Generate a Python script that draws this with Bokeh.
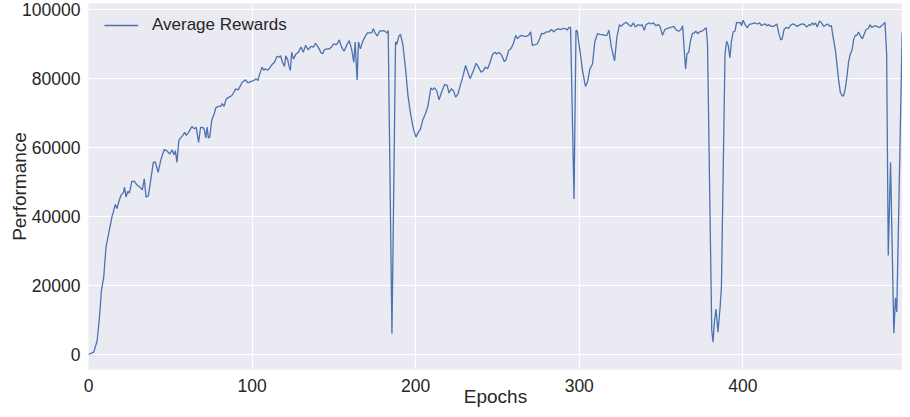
from bokeh.plotting import figure
from bokeh.models import Range1d, FixedTicker, BasicTickFormatter
from bokeh.embed import file_html
from bokeh.resources import INLINE

# Data
epochs = [
    0, 3.2, 5.3, 6.7, 7.9, 9.3, 10.7, 12.3, 14.3, 16.4, 17.4, 18.4, 19.8, 21.4, 22.0, 23.0, 24.0, 25.0,
    26.5, 28.0, 29.4, 31.5, 32.9, 34.1, 35.2, 36.6, 38.0, 39.6, 40.8, 42.6, 44.2, 46.3, 47.7, 49.7,
    51.1, 52.3, 53.1, 54.1, 55.2, 56.3, 57.7, 58.8, 59.8, 61.2, 63.2, 64.8, 65.8, 67.3, 68.5, 69.9,
    70.7, 71.7, 72.5, 73.3, 74.1, 75.4, 76.8, 77.8, 79.4, 80.8, 81.8, 82.8, 84.2, 85.9, 87.5, 88.9,
    89.9, 91.5, 93.0, 94.0, 96.0, 97.4, 99.0, 101.0, 102.4, 103.6, 104.4, 106.1, 107.1, 108.1, 109.7,
    111.1, 112.5, 113.7, 115.2, 116.6, 117.4, 118.6, 119.8, 120.6, 121.8, 122.6, 123.4, 124.2, 125.3,
    126.7, 128.3, 129.9, 131.3, 132.7, 134.3, 135.9, 137.4, 138.8, 140.4, 141.3, 142.2, 143.2,
    144.2, 145.7, 147.3, 148.5, 149.7, 151.3, 152.3, 153.3, 154.7, 156.2, 157.8, 159.4, 160.8, 162.2,
    163.0, 164.2, 165.0, 166.2, 167.5, 168.9, 170.5, 171.9, 173.1, 174.1, 175.2, 176.6, 178.0, 179.6,
    181.2, 182.6, 183.2, 185.5, 187.7, 188.5, 189.7, 190.7, 192.1, 193.7, 195.3, 196.9, 198.6, 200.2,
    201.8, 203.0, 204.2, 205.9, 207.5, 209.3, 210.3, 211.5, 212.9,
    214.3, 215.8, 217.8, 219.2, 220.4, 221.8, 223.2, 224.4, 225.8, 227.3, 228.9, 230.5, 231.9, 233.3,
    234.9, 237.0, 238.4, 240.0, 241.4, 242.6, 244.0, 245.5, 247.1, 248.5, 249.5, 251.1, 252.7, 254.1,
    255.2, 256.8, 258.2, 259.6, 261.2, 262.2, 263.6, 264.8, 266.3, 267.7, 268.9, 270.3, 271.3, 272.9,
    274.3, 275.8, 277.0, 278.4, 279.8, 281.4, 283.0, 284.5,
    285.9, 287.3, 288.7, 290.3, 291.9, 292.7, 293.7, 294.7, 296.8, 298.0, 298.8, 300.4, 302.0, 303.8,
    305.0, 306.5, 308.1, 309.5, 311.1, 312.5, 314.1, 315.5, 316.9, 318.1, 319.6, 321.6, 323.0, 324.6,
    325.7, 327.0, 328.7, 330.3, 331.7, 333.1, 334.3, 335.8, 337.2, 338.4, 339.8, 340.8, 342.4, 343.8,
    345.3, 346.9, 348.5, 349.5, 350.9, 352.3, 353.9, 355.9,
    357.8, 359.4, 360.8, 362.2, 363.2, 364.2, 365.0, 365.9, 366.9, 367.9, 369.1, 370.3, 371.3, 372.3,
    373.5, 374.9, 376.3, 377.6, 378.4, 381.0, 381.8, 382.6, 383.6, 384.8, 386.1, 386.9, 389.1, 390.1,
    391.1, 392.1, 393.1, 394.1, 395.2, 396.2, 397.6, 398.6, 399.2, 400.2, 401.4, 402.8, 403.8, 405.2,
    407.2, 408.7, 410.3, 411.3, 412.3, 413.7, 414.7, 415.9, 417.4, 418.8, 420.0, 420.8, 422.0, 423.2,
    424.0, 425.2, 426.4, 428.0,
    428.9, 430.3, 431.7, 433.3, 434.9, 436.4, 437.8, 439.0, 440.4, 441.4, 442.4, 443.4, 444.4, 445.5,
    446.9, 448.1, 449.5, 450.9, 451.9, 453.1, 454.1, 455.2, 456.6, 457.6, 458.6, 459.6, 460.6, 461.6,
    462.6, 463.6, 464.6, 465.7, 466.7, 467.7, 468.7, 469.7, 470.7, 471.7, 473.1, 474.3, 475.3, 476.7,
    477.7, 478.7, 480.1, 481.3, 482.7, 483.7, 484.7, 485.7, 486.9, 487.9, 488.9, 490.3, 492.3, 493.3,
    494.1, 497.4,
]
rewards = [
    0, 700, 4000, 10800, 18500, 22400, 31100, 35000, 39800, 43500, 42300, 44100, 46100, 47000, 48500,
    45600, 47300, 46800, 50200, 50200, 49300, 48500, 47700, 50900, 45600, 46000, 50400, 55700, 55800,
    52800, 56400, 59400, 59100, 58100, 59300, 57900, 59100, 55700, 62000, 62800, 63500, 64400, 63500,
    64400, 66100, 65400, 65900, 61500, 65800, 65800,
    65400, 62800, 65900, 62800, 63000, 68000, 69700, 71500, 71900, 71900, 72700, 71900, 74100, 74600,
    75000, 76000, 77000, 76700, 78000, 78900, 79600, 78700, 79100, 79400, 79900, 79400, 80900, 83300,
    82400, 82800, 82400, 83300, 84200, 84700, 86400, 86200, 86600, 84700, 83500, 86600, 85400, 83500,
    82300, 87600, 85600, 87000, 87600, 89100, 87600, 89600, 88300, 89300, 89100, 90200, 89100, 88300,
    87400, 87200,
    88300, 88600, 88600, 89100, 90000, 89800, 90200, 91200, 89100, 87900, 89600, 91000, 88600, 84700,
    90600, 79600, 90600, 88600, 90600, 92000, 93200, 93200, 93200, 94400, 93200, 92300, 93700, 93900,
    93700, 93200, 93900, 6000, 90600, 89900, 92300, 92800, 90000, 83300, 75000, 69700, 65400, 63000,
    64600, 65400, 67800, 69700, 72000, 77300, 76700, 77300, 76400,
    73800, 76000, 78300, 78000, 75800, 77000, 76400, 74600, 75500, 78000, 80600, 83800, 81800, 79900,
    81800, 84400, 83300, 81800, 82300, 83300, 82800, 84700, 87100, 87600, 87100, 87600, 86600, 84900,
    85400, 88100, 88600, 90000, 92500, 91500, 92200, 92500, 92200, 92200, 92500, 93500, 89600, 89800,
    90000, 91500, 93100, 93000, 93500, 93500, 94200, 93500,
    94200, 94400, 94200, 94500, 94400, 94000, 94800, 94800, 45100, 94000, 93700, 88100, 82300, 77700,
    78900, 82800, 84200, 90600, 93000, 92800, 92700, 92500, 92500, 94000, 89100, 85100, 92000, 95600,
    95100, 95800, 96300, 95600, 95100, 96100, 94900, 95600, 95300, 95600, 94000, 95600, 96100, 95800,
    96100, 95300, 95600, 94900, 92500, 94200, 94500, 94800,
    95100, 94000, 93700, 94200, 95300, 88100, 82800, 87200, 87600, 90600, 93000, 93200, 93700, 93000,
    93500, 93700, 94200, 94700, 90000, 7000, 3600, 9400, 13200, 6500, 13700, 19500, 87100, 90800,
    89600, 86000, 91000, 93500, 93700, 96300, 96100, 96300, 95300, 96900, 95600, 94700, 95600, 95800,
    96100, 95800, 96100, 95300, 95600, 95800, 95300, 95600, 95100, 95100, 95500, 95800, 93000, 91200,
    91400, 94200, 94800, 94500,
    95300, 95800, 95600, 95100, 95600, 95800, 95600, 94900, 95600, 95400, 96100, 95600, 96100, 94900,
    96700, 96100, 95100, 95600, 95800, 95100, 95300, 92000, 88100, 83800, 79400, 76000, 75000, 75000,
    77000, 80400, 84700, 87100, 88100, 91200, 92500, 92500, 93500, 92500, 91500, 93000, 94200, 94500,
    95600, 94800, 95100, 95300, 94900, 94800, 95300, 95600, 96300, 87200, 28700, 55700, 6200, 16400,
    12300, 93400,
]
x_ticks = [0, 100, 200, 300, 400]
y_ticks = [0, 20000, 40000, 60000, 80000, 100000]
series_name = "Average Rewards"

FONT = "Liberation Sans"
TXT = "#262626"

p = figure(
    width=902, height=409,
    x_range=Range1d(0, 497.6), y_range=Range1d(-4348, 101739),
    output_backend="svg", toolbar_location=None,
    min_border_left=88, min_border_right=0, min_border_top=3, min_border_bottom=40,
    background_fill_color="#EAEAF2", border_fill_color="white",
    outline_line_color=None,
    x_axis_label="Epochs", y_axis_label="Performance",
)

p.line(epochs, rewards, line_color="#4C72B0", line_width=1.3, legend_label=series_name)

p.xaxis.ticker = FixedTicker(ticks=x_ticks)
p.yaxis.ticker = FixedTicker(ticks=y_ticks)
p.yaxis.formatter = BasicTickFormatter(use_scientific=False)

for ax in (p.xaxis, p.yaxis):
    ax.axis_line_color = None
    ax.major_tick_line_color = None
    ax.minor_tick_line_color = None
    ax.major_label_text_font = FONT
    ax.major_label_text_font_size = "17.5px"
    ax.major_label_text_color = TXT
    ax.axis_label_text_font = FONT
    ax.axis_label_text_font_size = "19px"
    ax.axis_label_text_font_style = "normal"
    ax.axis_label_text_color = TXT

p.xaxis.major_label_standoff = 3
p.xaxis.axis_label_standoff = -9
p.yaxis.major_label_standoff = 2
p.yaxis.axis_label_standoff = -11

p.xgrid.grid_line_color = "white"
p.ygrid.grid_line_color = "white"
p.xgrid.grid_line_width = 1
p.ygrid.grid_line_width = 1

lg = p.legend[0]
lg.location = (16, 334)
lg.margin = 0
lg.padding = 0
lg.spacing = 0
lg.glyph_width = 34
lg.glyph_height = 20
lg.label_height = 20
lg.label_standoff = 14
lg.label_text_font = FONT
lg.label_text_font_size = "17px"
lg.label_text_color = TXT
lg.background_fill_alpha = 0
lg.border_line_alpha = 0

open("out.html", "w").write(file_html(p, INLINE))
